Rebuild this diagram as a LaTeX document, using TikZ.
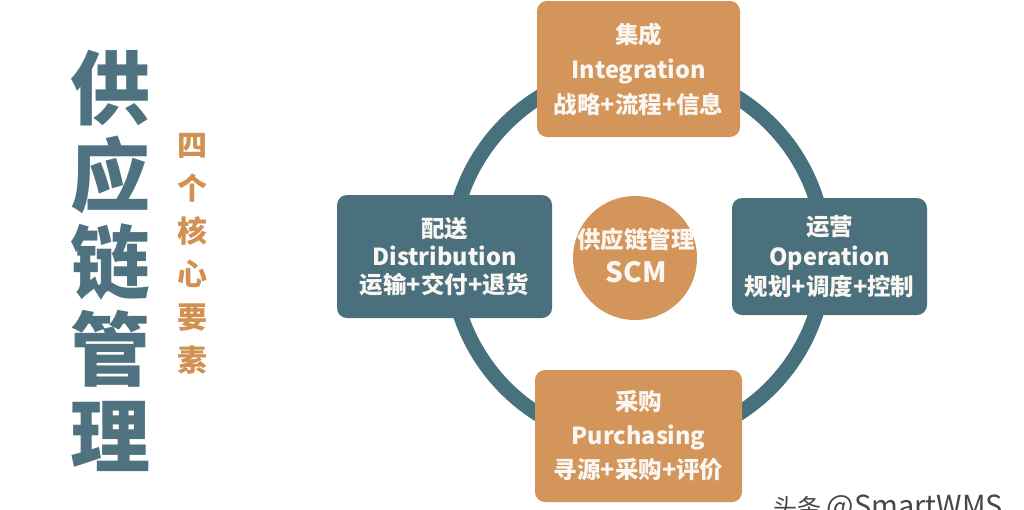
\documentclass[tikz,border=0pt]{standalone}
\usepackage{fontspec}
\setmainfont{Noto Sans CJK SC}
\usetikzlibrary{positioning}

\definecolor{ochre}{RGB}{211,149,90}
\definecolor{slate}{RGB}{74,112,126}
\definecolor{ringslate}{RGB}{72,113,126}
\definecolor{titleslate}{RGB}{78,114,128}
\definecolor{suborange}{RGB}{210,145,82}
\definecolor{boxtext}{RGB}{250,246,241}

\begin{document}
\begin{tikzpicture}[x=1pt,y=-1pt,
  box/.style={rounded corners=10pt,text=boxtext,align=center,inner sep=0pt,
    font=\bfseries\fontsize{23}{32}\selectfont},
  hub/.style={circle,fill=ochre,text=boxtext,align=center,inner sep=0pt,minimum size=124pt}]
\useasboundingbox (0,0) rectangle (1024,509);

% ring behind the four boxes
\coordinate (ring) at (638,256);
\draw[ringslate,line width=15pt] (ring) circle[radius=187pt];

% the four elements
\node[box,fill=ochre,minimum width=203pt,minimum height=136pt,
  font=\bfseries\fontsize{23.5}{35}\selectfont] (integ) at (638.5,69) {集成\\Integration\\战略+流程+信息};
\node[box,fill=slate,minimum width=215pt,minimum height=123pt,
  font=\bfseries\fontsize{23.5}{28}\selectfont] (distrib) at (444.5,256.5) {配送\\Distribution\\运输+交付+退货};
\node[box,fill=slate,minimum width=195pt,minimum height=117pt,
  font=\bfseries\fontsize{23.5}{30}\selectfont] (operat) at (829.5,256.5) {运营\\Operation\\规划+调度+控制};
\node[box,fill=ochre,minimum width=207pt,minimum height=132pt,
  font=\bfseries\fontsize{23.5}{34}\selectfont] (purch) at (638.5,436) {采购\\Purchasing\\寻源+采购+评价};

% centre
\node[hub] (scm) at (635,258) {};
\node[text=boxtext,font=\bfseries\fontsize{23.5}{24}\selectfont] (scmcn) at (636,240) {供应链管理};
\node[text=boxtext,font=\bfseries\fontsize{28}{30}\selectfont] (scmen) at (636,272) {SCM};

% titles on the left
\node[text=titleslate,align=center,inner sep=0pt,font=\bfseries\fontsize{80}{87}\selectfont]
  (title) at (110,261) {供\\应\\链\\管\\理};
\node[text=suborange,align=center,inner sep=0pt,font=\bfseries\fontsize{30}{43}\selectfont]
  (subtitle) at (192,254) {四\\个\\核\\心\\要\\素};

% watermark, cut by the lower edge
\node[anchor=north west,text=black!72,inner sep=0pt,font=\fontsize{24}{26}\selectfont]
  (mark) at (773,495) {头条 {\fontsize{29}{30}\selectfont @SmartWMS}};
\end{tikzpicture}
\end{document}
